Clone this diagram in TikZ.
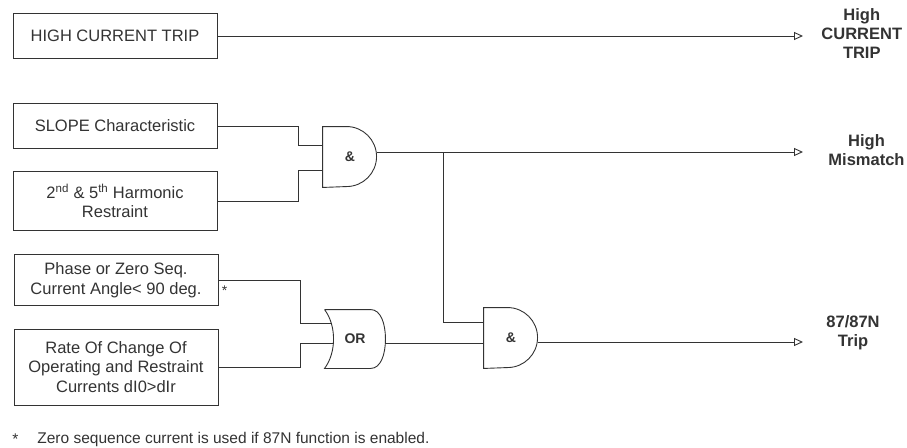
\documentclass[tikz,border=0pt]{standalone}
\usepackage{fontspec}
\setmainfont{Liberation Sans}
\usetikzlibrary{arrows.meta, positioning}

\begin{document}
\begin{tikzpicture}[x=1pt, y=1pt, line width=0.9pt, color=black!80,
    inbox/.style={draw, minimum width=204pt, inner sep=2pt, align=center,
                  font=\fontsize{16.5}{19.5}\selectfont},
    gate/.style={minimum width=54pt, minimum height=60pt, inner sep=0pt,
                 font=\fontsize{14}{16}\selectfont\bfseries},
    orgate/.style={gate, minimum width=60pt, minimum height=58pt},
    outlbl/.style={anchor=west, inner sep=0pt, align=center,
                   font=\fontsize{16.5}{19}\selectfont\bfseries},
    fnote/.style={anchor=west, inner sep=0pt, font=\fontsize{15.5}{17}\selectfont},
    sig/.style={-{Triangle[open, length=9pt, width=8pt]}}]
  \useasboundingbox (0,0) rectangle (907,-447);

  % input conditions
  \node[inbox, minimum height=45pt] (hct) at (115,-36) {HIGH CURRENT TRIP};
  \node[inbox, minimum height=45pt] (slope) at (115,-126) {SLOPE Characteristic};
  \node[inbox, minimum height=59pt] (harm) at (115,-201)
    {2\textsuperscript{nd} \& 5\textsuperscript{th} Harmonic\\Restraint};
  \node[inbox, minimum height=51pt] (angle) at (116,-280)
    {Phase or Zero Seq.\\Current Angle< 90 deg.};
  \node[inbox, minimum height=76pt] (rate) at (116,-367)
    {Rate Of Change Of\\Operating and Restraint\\Currents dI0>dIr};
  \node[anchor=west, inner sep=1pt, font=\fontsize{14}{16}\selectfont] (star)
    at ([xshift=2pt, yshift=-11pt]angle.east) {*};

  % gates
  \node[gate] (and1) at (350,-157) {\&};
  \node[orgate] (or1) at (355,-339) {OR};
  \node[gate] (and2) at (511,-338) {\&};
  \draw (and1.north west) -- ++(24,0) arc[start angle=90, end angle=-90, radius=30pt]
    -- (and1.south west) -- cycle;
  \draw (and2.north west) -- ++(24,0) arc[start angle=90, end angle=-90, radius=30pt]
    -- (and2.south west) -- cycle;
  \draw (or1.north west) -- ++(46,0) .. controls +(10,0) and +(0,16) .. (or1.east)
    .. controls +(0,-16) and +(10,0) .. ([xshift=46pt]or1.south west)
    -- (or1.south west) .. controls +(12,16) and +(12,-16) .. (or1.north west);

  % outputs
  \coordinate (tip) at (803,0);
  \node[outlbl] (lhct) at (821,-34) {High\\CURRENT\\TRIP};
  \node[outlbl] (lmis) at (828,-150) {High\\Mismatch};
  \node[outlbl] (ltrip) at (826,-333) {87/87N\\Trip};

  % wiring
  \draw[sig] (hct.east) -- (tip |- hct.east);
  \draw (slope.east) -- ++(81,0) |- ([yshift=12pt]and1.west);
  \draw (harm.east) -- ++(81,0) |- ([yshift=-13pt]and1.west);
  \coordinate (o1) at ([yshift=5pt]and1.east);
  \draw[sig] (o1) -- (tip |- o1);
  \coordinate (tap) at ([xshift=66pt]o1);
  \draw (tap) |- ([yshift=16pt]and2.west);
  \draw (angle.east) -- ++(82,0) |- ([xshift=7pt, yshift=16pt]or1.west);
  \draw (rate.east) -- ++(82,0) |- ([xshift=9pt, yshift=-4pt]or1.west);
  \coordinate (o2) at ([yshift=-4pt]or1.east);
  \draw (o2) -- (and2.west |- o2);
  \coordinate (o3) at ([yshift=-4pt]and2.east);
  \draw[sig] (o3) -- (tip |- o3);

  % footnote
  \node[fnote] (fnstar) at (12,-439) {*};
  \node[fnote, right=18pt of fnstar] (fntext)
    {Zero sequence current is used if 87N function is enabled.};
\end{tikzpicture}
\end{document}
